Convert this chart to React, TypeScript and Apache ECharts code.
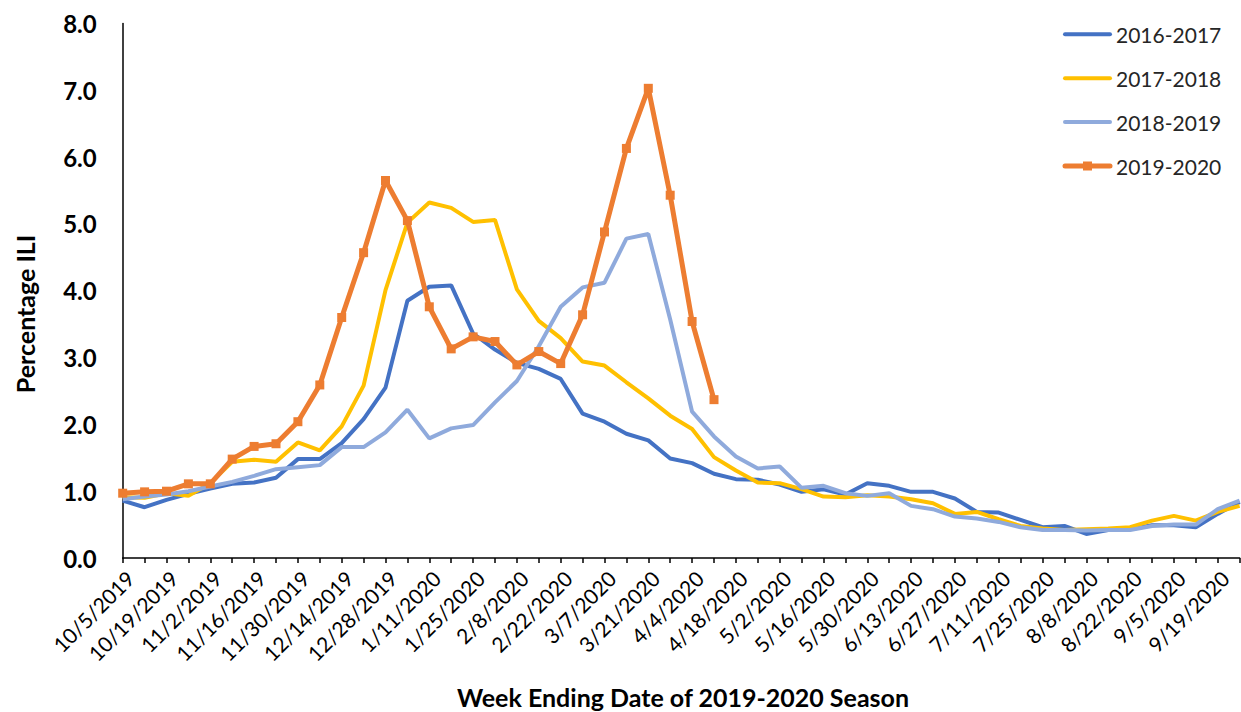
import React, { useEffect, useRef } from "react";
import * as echarts from "echarts";

const weeks: string[] = [
  "10/5/2019", "10/12/2019", "10/19/2019", "10/26/2019", "11/2/2019", "11/9/2019",
  "11/16/2019", "11/23/2019", "11/30/2019", "12/7/2019", "12/14/2019", "12/21/2019",
  "12/28/2019", "1/4/2020", "1/11/2020", "1/18/2020", "1/25/2020", "2/1/2020",
  "2/8/2020", "2/15/2020", "2/22/2020", "2/29/2020", "3/7/2020", "3/14/2020",
  "3/21/2020", "3/28/2020", "4/4/2020", "4/11/2020", "4/18/2020", "4/25/2020",
  "5/2/2020", "5/9/2020", "5/16/2020", "5/23/2020", "5/30/2020", "6/6/2020",
  "6/13/2020", "6/20/2020", "6/27/2020", "7/4/2020", "7/11/2020", "7/18/2020",
  "7/25/2020", "8/1/2020", "8/8/2020", "8/15/2020", "8/22/2020", "8/29/2020",
  "9/5/2020", "9/12/2020", "9/19/2020", "9/26/2020",
];

const s2016: number[] = [
  0.86, 0.76, 0.87, 0.96, 1.04, 1.11, 1.13, 1.2, 1.48, 1.48, 1.72, 2.08, 2.55,
  3.85, 4.06, 4.08, 3.36, 3.12, 2.92, 2.83, 2.68, 2.16, 2.04, 1.86, 1.76, 1.49,
  1.42, 1.26, 1.18, 1.17, 1.1, 0.99, 1.03, 0.95, 1.12, 1.08, 0.99, 0.99, 0.89,
  0.69, 0.68, 0.57, 0.46, 0.48, 0.36, 0.42, 0.43, 0.49, 0.49, 0.46, 0.66, 0.84,
];

const s2017: number[] = [
  0.91, 0.9, 0.97, 0.93, 1.12, 1.44, 1.47, 1.44, 1.73, 1.61, 1.97, 2.58, 4.01,
  5.02, 5.32, 5.24, 5.03, 5.06, 4.02, 3.55, 3.29, 2.94, 2.88, 2.63, 2.39, 2.13,
  1.93, 1.51, 1.31, 1.13, 1.12, 1.03, 0.92, 0.91, 0.94, 0.92, 0.88, 0.82, 0.66,
  0.69, 0.58, 0.48, 0.44, 0.42, 0.43, 0.44, 0.46, 0.56, 0.63, 0.56, 0.69, 0.78,
];

const s2018: number[] = [
  0.88, 0.92, 0.95, 1.0, 1.07, 1.14, 1.23, 1.33, 1.36, 1.39, 1.66, 1.66, 1.88,
  2.22, 1.79, 1.94, 1.99, 2.33, 2.65, 3.17, 3.76, 4.05, 4.12, 4.78, 4.85, 3.57,
  2.19, 1.82, 1.52, 1.34, 1.37, 1.05, 1.08, 0.97, 0.93, 0.97, 0.78, 0.73, 0.62,
  0.59, 0.54, 0.46, 0.42, 0.42, 0.41, 0.42, 0.42, 0.48, 0.5, 0.5, 0.73, 0.86,
];

const s2019: number[] = [
  0.97, 0.99, 1.0, 1.11, 1.11, 1.48, 1.67, 1.71, 2.04, 2.59, 3.6, 4.57, 5.65,
  5.05, 3.76, 3.13, 3.31, 3.24, 2.89, 3.09, 2.91, 3.64, 4.88, 6.13, 7.03, 5.43,
  3.54, 2.37,
];

const seriesNames: string[] = ["2016-2017", "2017-2018", "2018-2019", "2019-2020"];
const seriesColors: string[] = ["#4472C4", "#FFC000", "#8FAADC", "#ED7D31"];

const yTicks: number[] = [0, 1, 2, 3, 4, 5, 6, 7, 8];

const FONT = "Lato, 'Open Sans', sans-serif";

export default function App() {
  const ref = useRef<HTMLDivElement>(null);

  useEffect(() => {
    if (!ref.current) return;
    const chart = echarts.init(ref.current, null, { renderer: "svg" });
    const datasets = [s2016, s2017, s2018, s2019];

    // custom legend (lines, marker on last series)
    const legendTop = 34.3;
    const legendStep = 43.9;
    const legendGraphics: any[] = [];
    seriesNames.forEach((name, i) => {
      const y = legendTop + i * legendStep;
      legendGraphics.push({
        type: "line",
        shape: { x1: 1065, y1: y, x2: 1110, y2: y },
        style: { stroke: seriesColors[i], lineWidth: i === 3 ? 5 : 4, lineCap: "round" },
      });
      if (i === 3) {
        legendGraphics.push({
          type: "rect",
          shape: { x: 1083, y: y - 4.5, width: 9, height: 9 },
          style: { fill: seriesColors[i] },
        });
      }
      legendGraphics.push({
        type: "text",
        x: 1116,
        y: y,
        style: {
          text: name,
          fontSize: 21,
          fontFamily: FONT,
          fill: "#262626",
          align: "left",
          verticalAlign: "middle",
        },
      });
    });

    chart.setOption({
      animation: false,
      backgroundColor: "#ffffff",
      textStyle: { fontFamily: FONT },
      grid: { left: 122.7, right: 1.4, top: 23.5, bottom: 154, containLabel: false },
      xAxis: {
        type: "category",
        data: weeks,
        boundaryGap: false,
        axisLine: { show: true, lineStyle: { color: "#000", width: 1.5 } },
        axisTick: { show: true, interval: 0, length: 5, lineStyle: { color: "#000", width: 1.5 } },
        axisLabel: {
          interval: 1,
          rotate: 45,
          fontSize: 21,
          fontFamily: FONT,
          color: "#000",
          margin: 9,
          verticalAlign: "top",
        },
        splitLine: { show: false },
      },
      yAxis: {
        type: "value",
        min: yTicks[0],
        max: yTicks[yTicks.length - 1],
        interval: 1,
        axisLine: { show: true, lineStyle: { color: "#000", width: 1.5 } },
        axisTick: { show: false },
        splitLine: { show: false },
        axisLabel: {
          fontSize: 24,
          fontWeight: "bold",
          fontFamily: FONT,
          color: "#000",
          margin: 26,
          formatter: (v: number) => v.toFixed(1),
        },
      },
      graphic: [
        {
          type: "text",
          x: 25,
          y: 314,
          rotation: Math.PI / 2,
          style: {
            text: "Percentage ILI",
            fontSize: 25,
            fontWeight: "bold",
            fontFamily: FONT,
            fill: "#000",
            align: "center",
            verticalAlign: "middle",
          },
        },
        {
          type: "text",
          x: 683,
          y: 697,
          style: {
            text: "Week Ending Date of 2019-2020 Season",
            fontSize: 25,
            fontWeight: "bold",
            fontFamily: FONT,
            fill: "#000",
            align: "center",
            verticalAlign: "middle",
          },
        },
        ...legendGraphics,
      ],
      series: datasets.map((d, i) => ({
        name: seriesNames[i],
        type: "line",
        data: d,
        color: seriesColors[i],
        showSymbol: i === 3,
        symbol: i === 3 ? "rect" : "none",
        symbolSize: 9,
        lineStyle: { width: i === 3 ? 5 : 4, color: seriesColors[i] },
        itemStyle: { color: seriesColors[i] },
        z: 2 + i,
      })),
    });
    return () => chart.dispose();
  }, []);

  return (
    <div
      ref={ref}
      style={{ position: "fixed", left: 0, top: 0, width: 1241, height: 712, background: "#fff" }}
    />
  );
}
